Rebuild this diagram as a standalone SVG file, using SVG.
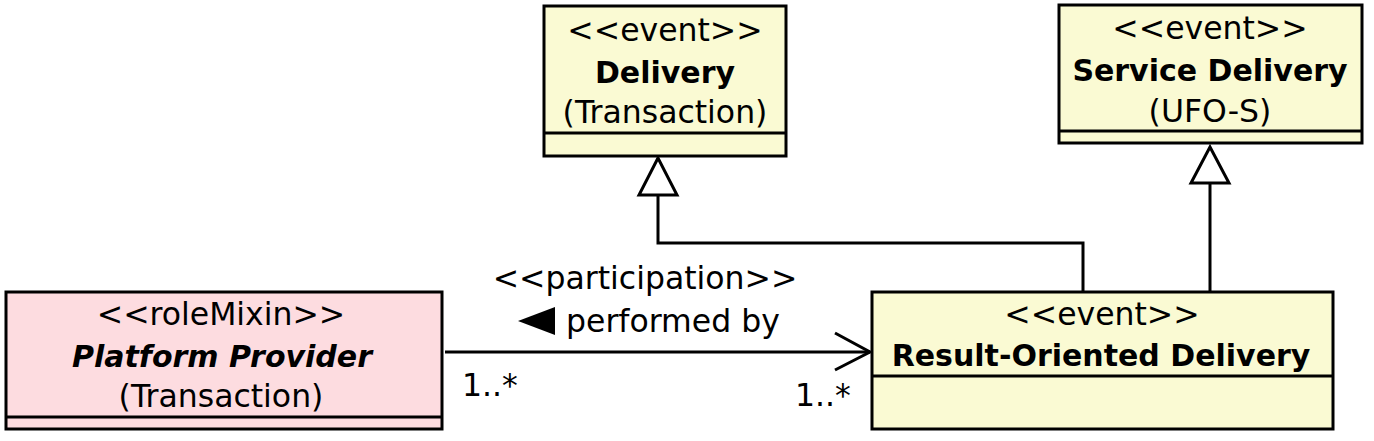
<svg xmlns="http://www.w3.org/2000/svg" width="1374" height="441" viewBox="0 0 1374 441">
<style>
text{font-family:"DejaVu Sans","Liberation Sans",sans-serif;font-size:31.5px;fill:#000;text-anchor:middle}
.b{font-weight:bold;font-size:30px}
.bi{font-weight:bold;font-style:italic;font-size:30px}
.ev{fill:#FAFAD3;stroke:#000;stroke-width:3}
.rm{fill:#FDDCE0;stroke:#000;stroke-width:3}
.sep{stroke:#000;stroke-width:3}
.c{fill:none;stroke:#000;stroke-width:3}
.gen{fill:#fff;stroke:#000;stroke-width:3;stroke-linejoin:miter}
.l{text-anchor:start}
</style>
<g id="delivery">
<rect class="ev" x="544" y="6" width="242" height="150"/>
<line class="sep" x1="544" y1="133" x2="786" y2="133"/>
<text x="665" y="41">&lt;&lt;event&gt;&gt;</text>
<text class="b" x="665" y="83">Delivery</text>
<text x="665" y="123">(Transaction)</text>
</g>
<g id="service-delivery">
<rect class="ev" x="1059" y="5" width="303" height="138"/>
<line class="sep" x1="1059" y1="131" x2="1362" y2="131"/>
<text x="1210" y="39">&lt;&lt;event&gt;&gt;</text>
<text class="b" x="1210" y="81">Service Delivery</text>
<text x="1210" y="122">(UFO-S)</text>
</g>
<g id="platform-provider">
<rect class="rm" x="6" y="292" width="436" height="137"/>
<line class="sep" x1="6" y1="417" x2="442" y2="417"/>
<text x="221" y="325">&lt;&lt;roleMixin&gt;&gt;</text>
<text class="bi" x="222" y="367">Platform Provider</text>
<text x="221" y="407">(Transaction)</text>
</g>
<g id="result-oriented-delivery">
<rect class="ev" x="872" y="292" width="461" height="137"/>
<line class="sep" x1="872" y1="376" x2="1333" y2="376"/>
<text x="1102" y="325">&lt;&lt;event&gt;&gt;</text>
<text class="b" x="1101" y="366">Result-Oriented Delivery</text>
</g>
<g id="connectors">
<polyline class="c" points="1083,292 1083,243 658,243 658,195"/>
<polygon class="gen" points="658,158 639,195 677,195"/>
<line class="c" x1="1210" y1="292" x2="1210" y2="183"/>
<polygon class="gen" points="1210,147 1191,183 1229,183"/>
<line class="c" x1="445" y1="352" x2="870" y2="352"/>
<polyline class="c" points="835,333 870,352 835,370"/>
<text x="645" y="289">&lt;&lt;participation&gt;&gt;</text>
<polygon points="518,321 555,307 555,335" fill="#000"/>
<text class="l" x="566" y="332">performed by</text>
<text class="l" x="462" y="396">1..*</text>
<text class="l" x="795" y="406">1..*</text>
</g>
</svg>
